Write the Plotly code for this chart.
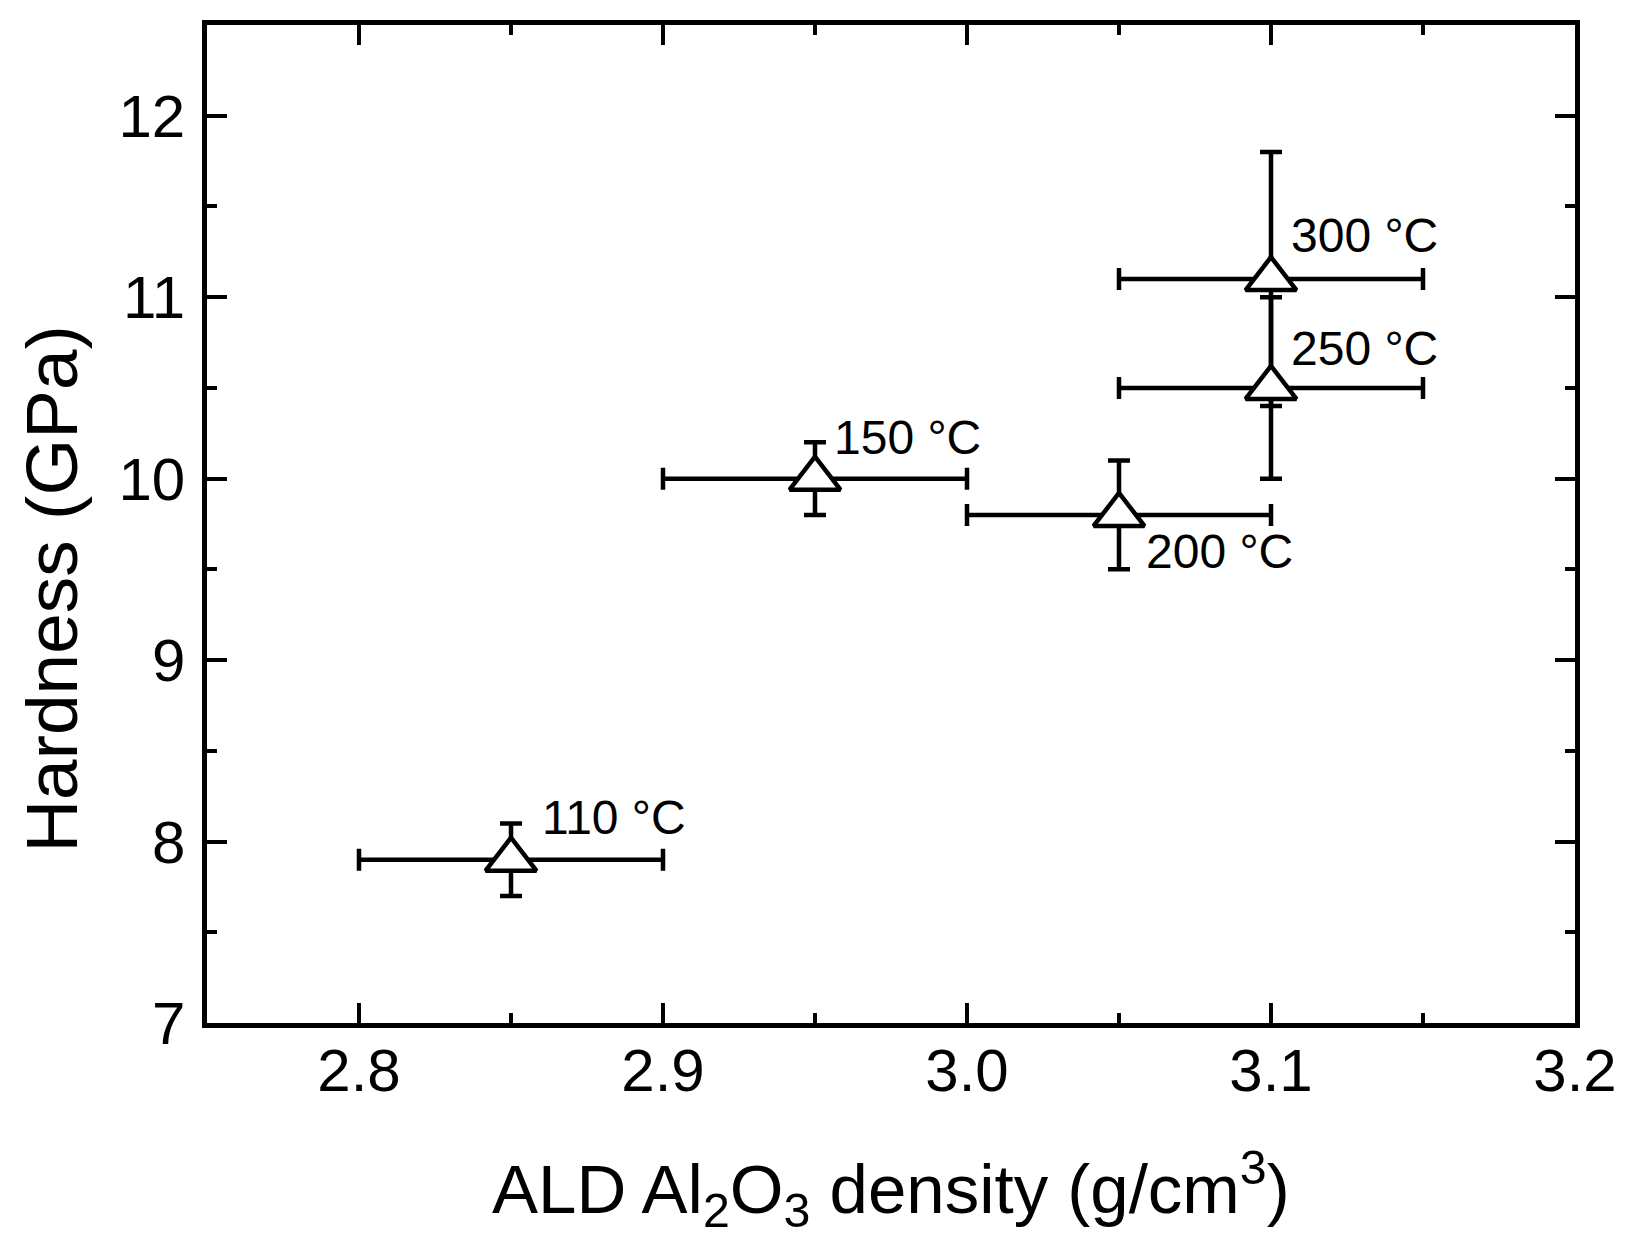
import plotly.graph_objects as go

# ---- data ----
density = [2.85, 2.95, 3.05, 3.10, 3.10]
density_err = [0.05, 0.05, 0.05, 0.05, 0.05]
hardness = [7.9, 10.0, 9.8, 10.5, 11.1]
hardness_err = [0.2, 0.2, 0.3, 0.5, 0.7]
labels = ["110 °C", "150 °C", "200 °C", "250 °C", "300 °C"]

x_ticks = [2.8, 2.9, 3.0, 3.1, 3.2]
y_ticks = [7, 8, 9, 10, 11, 12]

# label offsets in px (x, y) relative to each point
label_dx = [29, 17, 25, 18, 18]
label_dy = [42, 41, -37, 39, 44]

FONT = "Liberation Sans, Arial, sans-serif"

fig = go.Figure()
fig.add_trace(go.Scatter(
    x=density, y=hardness, mode="markers",
    error_x=dict(type="data", array=density_err, thickness=4.5, width=11, color="black"),
    error_y=dict(type="data", array=hardness_err, thickness=4.5, width=11, color="black"),
    marker=dict(symbol="triangle-up", size=44, color="white",
                line=dict(color="black", width=4.5)),
    showlegend=False,
))

for x, y, t, dx, dy in zip(density, hardness, labels, label_dx, label_dy):
    fig.add_annotation(x=x, y=y, xref="x", yref="y", text=t, showarrow=False,
                       xanchor="left", yanchor="middle", xshift=dx, yshift=dy,
                       font=dict(family=FONT, size=48, color="black"))

# axis titles as annotations
fig.add_annotation(text="Hardness (GPa)", xref="paper", yref="paper",
                   x=-0.1135, y=0.435, showarrow=False, textangle=-90,
                   xanchor="center", yanchor="middle",
                   font=dict(family=FONT, size=73, color="black"))
fig.add_annotation(text="ALD Al<sub>2</sub>O<sub>3</sub> density (g/cm<sup>3</sup>)",
                   xref="paper", yref="paper", x=0.5, y=-0.166, showarrow=False,
                   xanchor="center", yanchor="middle",
                   font=dict(family=FONT, size=69, color="black"))

axis_common = dict(
    showline=True, linewidth=4.5, linecolor="black", mirror="ticks",
    ticks="inside", ticklen=20, tickwidth=4, tickcolor="black",
    showgrid=False, zeroline=False,
    tickfont=dict(family=FONT, size=60, color="black"),
)

fig.update_xaxes(range=[2.75, 3.2], tickvals=x_ticks,
                 ticktext=[f"{v:.1f}" for v in x_ticks],
                 minor=dict(ticks="inside", ticklen=10, tickwidth=4, tickcolor="black", dtick=0.05,
                            tick0=2.75),
                 ticklabelstandoff=-9, **axis_common)
fig.update_yaxes(range=[7, 12.5], tickvals=y_ticks,
                 ticktext=[str(v) for v in y_ticks],
                 minor=dict(ticks="inside", ticklen=10, tickwidth=4, tickcolor="black", dtick=0.5,
                            tick0=7),
                 ticklabelstandoff=5, **axis_common)

fig.update_layout(
    width=1628, height=1252,
    margin=dict(l=199, r=61, t=15, b=237),
    plot_bgcolor="white", paper_bgcolor="white",
    font=dict(family=FONT, color="black"),
)

fig.write_html("out.html")
